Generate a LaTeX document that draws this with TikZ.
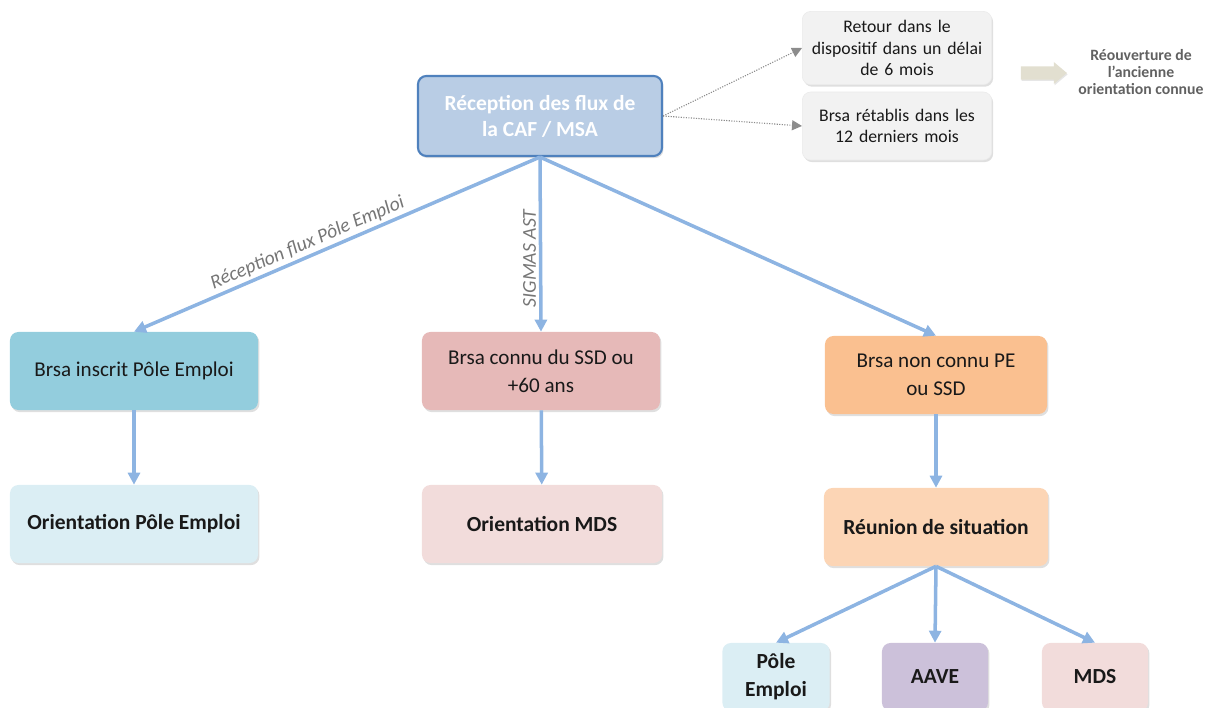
\documentclass[tikz,border=0pt]{standalone}
\usepackage{fontspec}
\setmainfont{Carlito}
\definecolor{FluxBlue}{RGB}{185, 205, 229}
\definecolor{FluxEdge}{RGB}{79, 129, 189}
\definecolor{LinkBlue}{RGB}{141, 180, 226}
\definecolor{PEdark}{RGB}{147, 205, 221}
\definecolor{PElight}{RGB}{219, 238, 244}
\definecolor{SSDdark}{RGB}{230, 185, 184}
\definecolor{MDSlight}{RGB}{242, 220, 219}
\definecolor{NCdark}{RGB}{250, 192, 144}
\definecolor{NClight}{RGB}{252, 213, 181}
\definecolor{AAVEcol}{RGB}{204, 193, 218}
\definecolor{RetourGray}{RGB}{242, 242, 242}
\definecolor{ShiftBeige}{RGB}{226, 223, 208}
\definecolor{LabelGray}{RGB}{118, 118, 118}
\usepackage{tikz}
\usetikzlibrary{arrows.meta, positioning, shapes, shadows}

\begin{document}
\begin{tikzpicture}[
            x=0.025cm, y=-0.025cm,
            box/.style={rectangle, rounded corners=6pt, draw=none, align=center,
                        text=black!90, font=\fontsize{15}{20}\selectfont,
                        drop shadow={opacity=0.25, shadow xshift=1pt, shadow yshift=-1.5pt}},
            bbox/.style={box, font=\fontsize{15.3}{20}\selectfont\bfseries},
            graybox/.style={box, fill=RetourGray, draw=black!8, text width=4.5cm,
                        font=\fontsize{12.6}{15}\selectfont},
            arrow/.style={-{Triangle[length=3mm, width=3mm]}, line width=2.5pt, LinkBlue},
            dotarrow/.style={-{Triangle[length=2.5mm, width=2.5mm]}, densely dotted, thick, black!45},
            edgelabel/.style={font=\fontsize{14}{16}\selectfont\itshape, text=LabelGray, inner sep=2pt}
        ]
            \useasboundingbox (0,0) rectangle (1205,708);

            % Source
            \node[box, fill=FluxBlue, draw=FluxEdge, line width=1.5pt, text=white,
                  font=\fontsize{15.3}{18.5}\selectfont\bfseries,
                  minimum width=6.1cm, minimum height=2cm] (flux) at (540,116)
                  {Réception des flux de\\la CAF / MSA};

            % Reopening cases
            \node[graybox, minimum height=1.83cm] (retour) at (897,48)
                  {Retour dans le\\dispositif dans un délai\\de 6 mois};
            \node[graybox, minimum height=1.7cm] (retablis) at (897,126)
                  {Brsa rétablis dans les\\12 derniers mois};
            \node[single arrow, fill=ShiftBeige, minimum height=1.15cm, minimum width=0.55cm,
                  single arrow head extend=3pt, single arrow tip angle=80, inner sep=4.2pt,
                  drop shadow={opacity=0.2, shadow xshift=0.5pt, shadow yshift=-1pt}] (shift) at (1040,73) {};
            \node[font=\fontsize{11.2}{12}\selectfont\bfseries, text=black!62, align=center]
                  (reouv) at (1141,72) {Réouverture de\\l’ancienne\\orientation connue};

            % Row 1
            \node[box, fill=PEdark, minimum width=6.2cm, minimum height=1.95cm] (inscrit) at (134,371)
                  {Brsa inscrit Pôle Emploi};
            \node[box, fill=SSDdark, minimum width=5.95cm, minimum height=1.95cm] (connu) at (541,371)
                  {Brsa connu du SSD ou\\+60 ans};
            \node[box, fill=NCdark, minimum width=5.55cm, minimum height=1.95cm] (nonconnu) at (936,375)
                  {Brsa non connu PE\\ou SSD};

            % Row 2
            \node[bbox, fill=PElight, minimum width=6.2cm, minimum height=1.95cm] (orpe) at (134,524)
                  {Orientation Pôle Emploi};
            \node[bbox, fill=MDSlight, minimum width=6cm, minimum height=1.95cm] (ormds) at (542,524)
                  {Orientation MDS};
            \node[bbox, fill=NClight, minimum width=5.6cm, minimum height=1.95cm] (reunion) at (936,527)
                  {Réunion de situation};

            % Row 3
            \node[bbox, fill=PElight, minimum width=2.68cm, minimum height=1.7cm] (pe) at (776,677)
                  {Pôle\\Emploi};
            \node[bbox, fill=AAVEcol, minimum width=2.65cm, minimum height=1.7cm] (aave) at (935,677)
                  {AAVE};
            \node[bbox, fill=MDSlight, minimum width=2.65cm, minimum height=1.7cm] (mds) at (1095,677)
                  {MDS};

            % Arrows
            \draw[dotarrow] (flux.east) -- (retour.west);
            \draw[dotarrow] (flux.east) -- (retablis.west);
            \draw[arrow] (flux.south) -- node[edgelabel, sloped, above, pos=0.56] {Réception flux Pôle Emploi} (inscrit.north);
            \draw[arrow] (flux.south) -- node[edgelabel, rotate=90, anchor=south, pos=0.58] {SIGMAS AST} (connu.north);
            \draw[arrow] (flux.south) -- (nonconnu.north);
            \draw[arrow] (inscrit) -- (orpe);
            \draw[arrow] (connu) -- (ormds);
            \draw[arrow] (nonconnu) -- (reunion);
            \draw[arrow] (reunion.south) -- (pe.north);
            \draw[arrow] (reunion.south) -- (aave.north);
            \draw[arrow] (reunion.south) -- (mds.north);
        \end{tikzpicture}
\end{document}
